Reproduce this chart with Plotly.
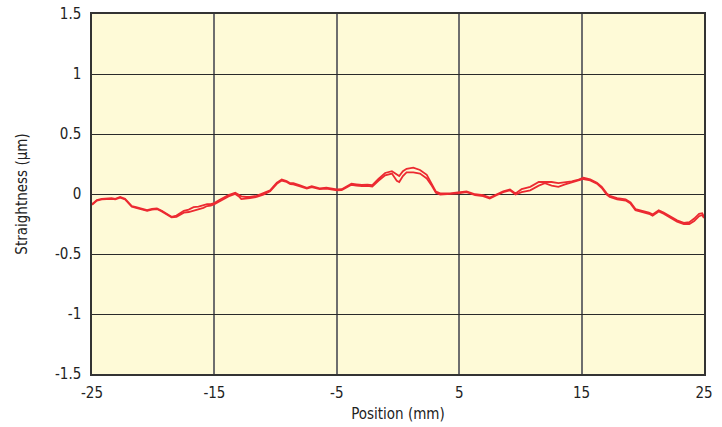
import plotly.graph_objects as go

position = [-25.0, -24.6, -24.2, -23.8, -23.4, -23.1, -22.7, -22.3, -22.0, -21.75, -21.4, -21.1, -20.8, -20.5,
            -20.1, -19.7, -19.3, -18.9, -18.5, -18.1, -17.8, -17.5, -17.1, -16.7, -16.3, -15.9, -15.6, -15.3,
            -15.0, -14.6, -14.2, -13.85, -13.3, -13.0, -12.8, -12.4, -12.1, -11.55, -11.0, -10.45, -10.2, -9.9,
            -9.5, -9.1, -8.8, -8.55, -8.0, -7.45, -7.05, -6.4, -5.85, -5.4, -5.0, -4.6, -4.2, -3.8, -3.4, -2.95,
            -2.5, -2.1, -1.6, -1.05, -0.5, -0.1, 0.1, 0.4, 0.7, 1.25, 1.8, 2.35, 2.75, 3.1, 3.45, 3.9, 4.25, 4.9,
            5.6, 6.3, 6.95, 7.5, 8.05, 8.6, 9.15, 9.6, 10.1, 10.8, 11.5, 12.0, 12.55, 13.1, 13.65, 14.2, 14.75,
            15.15, 15.7, 16.25, 16.65, 17.05, 17.3, 17.9, 18.6, 19.0, 19.4, 19.95, 20.5, 20.8, 21.3, 21.7, 22.3,
            22.8, 23.35, 23.8, 24.2, 24.6, 24.85, 25.0]

run_upper = [-0.085, -0.05, -0.04, -0.035, -0.035, -0.04, -0.025, -0.04, -0.07, -0.10, -0.11, -0.12, -0.125, -0.135,
             -0.125, -0.12, -0.14, -0.165, -0.19, -0.18, -0.16, -0.14, -0.13, -0.11, -0.105, -0.095, -0.085, -0.085,
             -0.075, -0.05, -0.03, -0.01, 0.01, -0.005, -0.02, -0.025, -0.025, -0.015, 0.005, 0.03, 0.06, 0.095,
             0.12, 0.108, 0.09, 0.09, 0.072, 0.052, 0.065, 0.047, 0.052, 0.044, 0.039, 0.04, 0.06, 0.085, 0.08, 0.075,
             0.078, 0.073, 0.125, 0.175, 0.19, 0.16, 0.15, 0.19, 0.21, 0.22, 0.2, 0.16, 0.09, 0.02, 0.005, 0.005, 0.005, 0.013,
             0.022, -0.002, -0.01, -0.03, -0.002, 0.023, 0.038, 0.005, 0.04, 0.06, 0.1, 0.1, 0.1, 0.09, 0.095, 0.105, 0.12,
             0.135, 0.122, 0.094, 0.06, 0.005, -0.015, -0.035, -0.045, -0.07, -0.125, -0.14, -0.155, -0.17, -0.135, -0.155, -0.19,
             -0.22, -0.24, -0.235, -0.205, -0.165, -0.16, -0.19]

run_lower = [-0.09, -0.055, -0.045, -0.04, -0.04, -0.045, -0.03, -0.045, -0.075, -0.105, -0.115, -0.125, -0.13, -0.14,
             -0.13, -0.125, -0.145, -0.17, -0.195, -0.19, -0.17, -0.155, -0.15, -0.14, -0.13, -0.115, -0.10, -0.096,
             -0.085, -0.06, -0.04, -0.02, 0.0, -0.02, -0.043, -0.035, -0.035, -0.025, -0.005, 0.022, 0.05, 0.085,
             0.112, 0.1, 0.082, 0.08, 0.064, 0.045, 0.058, 0.04, 0.044, 0.036, 0.031, 0.032, 0.052, 0.077, 0.07, 0.065,
             0.068, 0.063, 0.11, 0.155, 0.17, 0.11, 0.10, 0.15, 0.18, 0.18, 0.17, 0.13, 0.07, 0.01, -0.005, -0.003, -0.003, 0.005,
             0.015, -0.01, -0.018, -0.038, -0.01, 0.015, 0.03, -0.005, 0.015, 0.03, 0.07, 0.09, 0.07, 0.06, 0.08, 0.095, 0.11,
             0.125, 0.114, 0.086, 0.05, -0.005, -0.025, -0.045, -0.055, -0.08, -0.135, -0.15, -0.165, -0.18, -0.145, -0.165, -0.2,
             -0.23, -0.25, -0.25, -0.225, -0.185, -0.175, -0.2]

x_ticks = [-25, -15, -5, 5, 15, 25]
y_ticks = [1.5, 1, 0.5, 0, -0.5, -1, -1.5]
y_tick_labels = ["1.5", "1", "0.5", "0", "-0.5", "-1", "-1.5"]

FONT = "Liberation Sans Narrow, DejaVu Sans Condensed, Arial Narrow, sans-serif"
RED = "#ec2a31"

fig = go.Figure()
for ys in (run_upper, run_lower):
    fig.add_trace(go.Scatter(x=position, y=ys, mode="lines",
                             line=dict(color=RED, width=1.8), showlegend=False, hoverinfo="skip"))

fig.update_layout(
    width=722, height=427,
    margin=dict(l=92, r=18, t=14, b=53, autoexpand=False),
    paper_bgcolor="white",
    plot_bgcolor="#fefad7",
    font=dict(family=FONT, size=15, color="#222222"),
)
fig.update_xaxes(
    range=[-25, 25], tickvals=x_ticks, ticktext=[str(v) for v in x_ticks],
    showgrid=True, gridcolor="#6e6e6e", gridwidth=1.5,
    showline=True, linecolor="#333333", linewidth=1.5, mirror=True,
    zeroline=False, ticks="", ticklen=0, automargin=False, ticklabelstandoff=4,
    title=dict(text="Position (mm)", standoff=8, font=dict(size=15)),
)
fig.update_yaxes(
    range=[-1.5, 1.5], tickvals=y_ticks, ticktext=y_tick_labels,
    showgrid=True, gridcolor="#2a2a2a", gridwidth=1,
    showline=True, linecolor="#333333", linewidth=1.5, mirror=True,
    zeroline=False, ticks="", ticklen=0, automargin=False, ticklabelstandoff=6,
    title=dict(text="Straightness (μm)", standoff=24, font=dict(size=15)),
)

fig.write_html("out.html", config={"displayModeBar": False},
               post_script="document.body.style.margin='0';document.body.style.overflow='hidden';")
